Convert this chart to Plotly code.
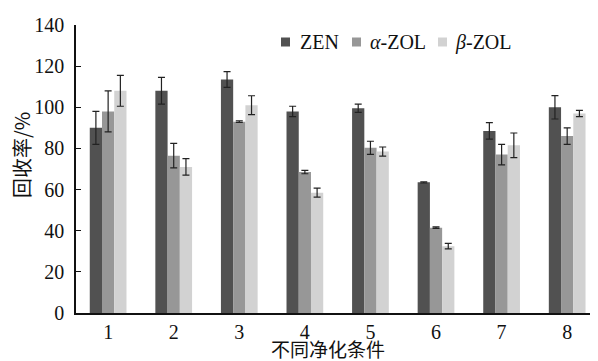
import plotly.graph_objects as go

conditions = [1, 2, 3, 4, 5, 6, 7, 8]
zen = [90, 108, 113.5, 98, 99.5, 63.5, 88.5, 100]
zen_err = [8, 6.5, 3.8, 2.5, 2, 0.3, 4, 5.7]
a_zol = [98, 76.5, 93, 68.5, 80.3, 41.5, 77, 86]
a_zol_err = [10, 6, 0.4, 0.8, 3.2, 0.4, 5, 4]
b_zol = [108, 71, 101, 58.5, 78.5, 32.5, 81.5, 97]
b_zol_err = [7.5, 4, 4.6, 2.2, 2.2, 1.3, 6, 1.5]
y_ticks = [0, 20, 40, 60, 80, 100, 120, 140]

series = [
    ("ZEN", zen, zen_err, "#515151"),
    ("<i>α</i>-ZOL", a_zol, a_zol_err, "#979797"),
    ("<i>β</i>-ZOL", b_zol, b_zol_err, "#d2d2d2"),
]

SERIF = "Times New Roman, Liberation Serif, DejaVu Serif, serif"
CJK = "Noto Sans CJK SC"

OFF = 8  # page body margin
W, H = 598 - OFF, 361 - OFF
L, R, T, B = 76 - OFF, 0, 25 - OFF, 48

fig = go.Figure()
for name, vals, errs, col in series:
    fig.add_trace(go.Bar(
        x=conditions, y=vals, name=name, marker=dict(color=col, line=dict(width=0)),
        error_y=dict(type="data", array=errs, visible=True, color="#222222",
                     thickness=1.2, width=3.5),
        showlegend=False,
    ))

pw, ph = W - L - R, H - T - B
def px(x):
    return (x - OFF - L) / pw
def py(y):
    return (H + OFF - B - y) / ph

shapes = []
annotations = []
legend_items = [(281, 298, series[0]), (352, 368, series[1]), (438, 453, series[2])]
for sx, tx, (name, _, _, col) in legend_items:
    shapes.append(dict(type="rect", xref="paper", yref="paper",
                       x0=px(sx), x1=px(sx + 9), y0=py(46.5), y1=py(37.5),
                       fillcolor=col, line=dict(width=0)))
    annotations.append(dict(xref="paper", yref="paper", x=px(tx), y=py(42.5),
                            text=name, showarrow=False, xanchor="left", yanchor="middle",
                            font=dict(family=SERIF, size=20, color="#111111")))

annotations.append(dict(xref="paper", yref="paper", x=px(21), y=py(155),
                        text="回收率/%", textangle=-90, showarrow=False,
                        xanchor="center", yanchor="middle",
                        font=dict(family=CJK, size=20, color="#111111")))
annotations.append(dict(xref="paper", yref="paper", x=px(328), y=py(348.5),
                        text="不同净化条件", showarrow=False,
                        xanchor="center", yanchor="middle",
                        font=dict(family=CJK, size=19, color="#111111")))

fig.update_layout(
    width=W, height=H,
    margin=dict(l=L, r=R, t=T, b=B),
    paper_bgcolor="white", plot_bgcolor="white",
    barmode="group", bargap=0.44, bargroupgap=0,
    font=dict(family=SERIF, size=20, color="#111111"),
    shapes=shapes, annotations=annotations,
    xaxis=dict(range=[0.51, 8.47], tickmode="array", tickvals=conditions,
               ticktext=[str(c) for c in conditions], showgrid=False, zeroline=False,
               showline=True, linecolor="#111111", linewidth=1.5, ticks="",
               tickfont=dict(family=SERIF, size=20)),
    yaxis=dict(range=[0, 140], tickmode="array", tickvals=y_ticks, showgrid=False,
               zeroline=False, showline=True, linecolor="#111111", linewidth=1.5,
               ticks="inside", ticklen=5, tickcolor="#111111", tickwidth=1.2,
               ticklabelstandoff=6,
               tickfont=dict(family=SERIF, size=20)),
)

fig.write_html("out.html")
